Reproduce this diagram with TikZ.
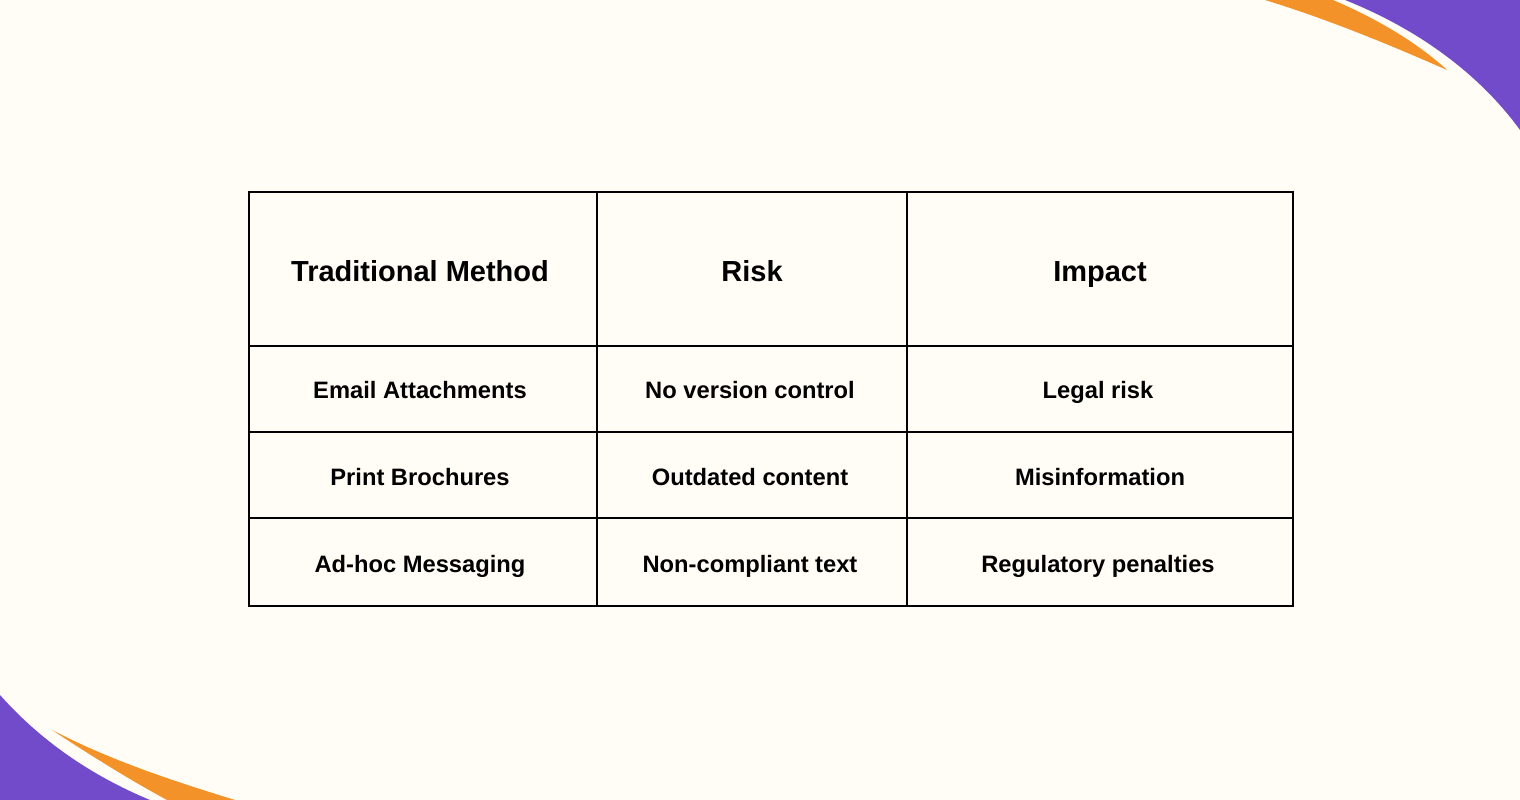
\documentclass[tikz,border=0pt]{standalone}
\usepackage{fontspec}
\setmainfont{Liberation Sans}
\definecolor{bg}{HTML}{FFFDF6}
\definecolor{pur}{HTML}{724BCB}
\definecolor{ora}{HTML}{F39229}
\begin{document}
\begin{tikzpicture}[x=0.02cm,y=-0.02cm,
  hd/.style={anchor=base,font=\fontsize{16.5}{18}\selectfont\bfseries},
  bd/.style={anchor=base,font=\fontsize{13.5}{14}\selectfont\bfseries},
  grid/.style={line width=1.3pt,black}]
\fill[bg] (0,0) rectangle (1520,800);
\useasboundingbox (0,0) rectangle (1520,800);
% decorations
\fill[pur] (1345,0) .. controls (1420,30) and (1480,75) .. (1520,130) -- (1520,0) -- cycle;
\fill[ora] (1265,0) -- (1333,0) .. controls (1380,20) and (1420,45) .. (1447,70) .. controls (1390,45) and (1330,20) .. (1265,0) -- cycle;
\fill[pur] (0,695) .. controls (40,740) and (90,775) .. (150,800) -- (0,800) -- cycle;
\fill[ora] (52,730) .. controls (90,755) and (130,780) .. (167,800) -- (235,800) .. controls (170,780) and (110,760) .. (52,730) -- cycle;
% table
\draw[grid] (249,192) rectangle (1293,606);
\foreach \yy in {346,432,518} \draw[grid] (249,\yy) -- (1293,\yy);
\foreach \xx in {597,907} \draw[grid] (\xx,192) -- (\xx,606);
\node[hd] (h1) at (420,282) {Traditional Method};
\node[hd] (h2) at (752,282) {Risk};
\node[hd] (h3) at (1100,282) {Impact};
\node[bd] (a1) at (420,398) {Email Attachments};
\node[bd] (a2) at (750,398) {No version control};
\node[bd] (a3) at (1098,398) {Legal risk};
\node[bd] (b1) at (420,485) {Print Brochures};
\node[bd] (b2) at (750,485) {Outdated content};
\node[bd] (b3) at (1100,485) {Misinformation};
\node[bd] (c1) at (420,572) {Ad-hoc Messaging};
\node[bd] (c2) at (750,572) {Non-compliant text};
\node[bd] (c3) at (1098,572) {Regulatory penalties};
\end{tikzpicture}
\end{document}
